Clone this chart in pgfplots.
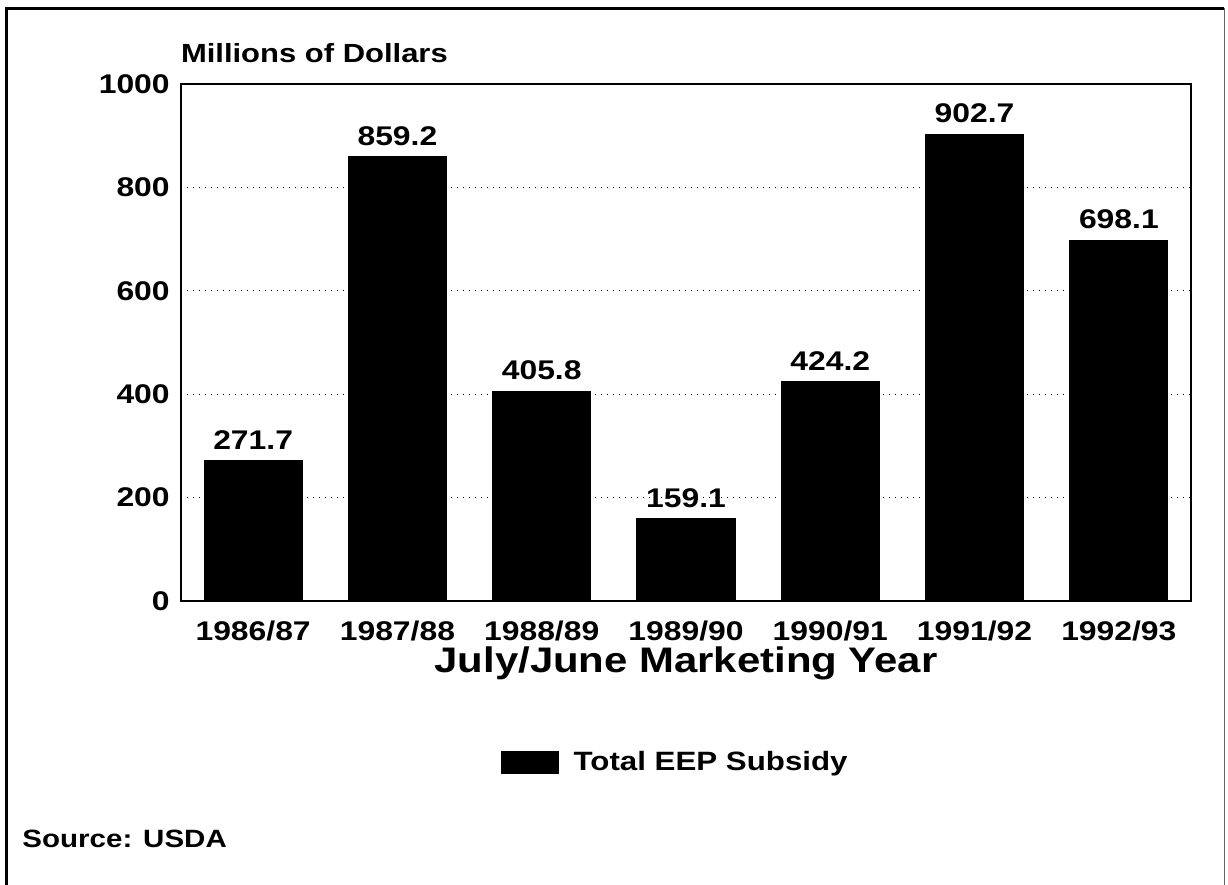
\documentclass[border=0pt]{standalone}
\usepackage{fontspec}
\setmainfont{Liberation Sans}[FakeStretch=1.18]
\usepackage{pgfplots}
\pgfplotsset{compat=1.18}
\begin{document}
\begin{tikzpicture}
\useasboundingbox (0pt,0pt) rectangle (491.2pt,353.6pt);
\draw[line width=1.1pt] (2.6pt,-5pt) -- (2.6pt,350.2pt) -- (489.4pt,350.2pt);
\draw[line width=0.5pt,black!60] (489.8pt,350.2pt) -- (489.8pt,-5pt);
\begin{axis}[
  at={(72.4pt,113.2pt)}, anchor=south west,
  scale only axis, width=404pt, height=206.8pt,
  xmin=-0.5, xmax=6.5, ymin=0, ymax=1000,
  axis line style={line width=0.7pt},
  ybar, bar width=0.68, bar shift=0pt,
  xtick=data,
  xticklabels={1986/87,1987/88,1988/89,1989/90,1990/91,1991/92,1992/93},
  ytick={0,200,400,600,800,1000},
  major tick length=0pt,
  tick label style={font=\bfseries\fontsize{10.8}{13}\selectfont},
  /pgf/number format/assume math mode=true,
  /pgf/number format/1000 sep={},
  xticklabel style={yshift=-4.5pt},
  yticklabel style={xshift=-1pt},
  ymajorgrids, grid style={dotted, black, line width=0.5pt},
  xlabel={July/June Marketing Year},
  xlabel style={font=\bfseries\fontsize{14.2}{17}\selectfont, yshift=4.5pt},
  nodes near coords,
  nodes near coords style={font=\bfseries\fontsize{10.8}{13}\selectfont, yshift=1pt},
  point meta=explicit symbolic,
  legend style={at={(0.316,-0.313)}, anchor=west, draw=none, fill=none,
    font=\bfseries\fontsize{10.6}{13}\selectfont, inner sep=0pt},
  legend image code/.code={\fill[black] (0pt,-4.4pt) rectangle (22.8pt,4.4pt);},
  clip=false,
]
\addplot[fill=black, draw=black] coordinates {
  (0,271.7) [271.7]
  (1,859.2) [859.2]
  (2,405.8) [405.8]
  (3,159.1) [159.1]
  (4,424.2) [424.2]
  (5,902.7) [902.7]
  (6,698.1) [698.1]
};
\addlegendentry{\hspace{4pt}Total EEP Subsidy}
\end{axis}
\node[anchor=base west, inner sep=0pt, font=\bfseries\fontsize{10.5}{12}\selectfont] at (72.2pt,328.4pt) {Millions of Dollars};
\node[anchor=base west, inner sep=0pt, font=\bfseries\fontsize{10}{12}\selectfont] at (8.8pt,14.8pt) {Source: USDA};
\end{tikzpicture}
\end{document}
